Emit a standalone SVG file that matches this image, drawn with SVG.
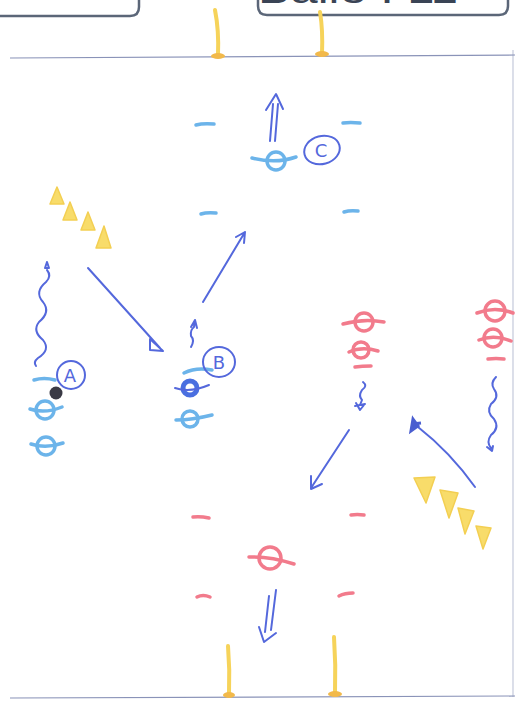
<svg xmlns="http://www.w3.org/2000/svg" width="529" height="702" viewBox="0 0 529 702">
<defs>
<style>
.frame{fill:none;stroke:#5b6678;stroke-width:2.5}
.field{fill:none;stroke:#8a93b8;stroke-width:1.2}
.post{fill:none;stroke:#f6d35a;stroke-width:4;stroke-linecap:round}
.foot{fill:#f2b94a}
.dk{fill:none;stroke:#5468dc;stroke-width:2;stroke-linecap:round;stroke-linejoin:round}
.lb{fill:none;stroke:#6cb4ea;stroke-width:3.5;stroke-linecap:round}
.lbp{fill:none;stroke:#6cb4ea;stroke-width:3.5}
.dbp{fill:none;stroke:#4a6fe0;stroke-width:5}
.rd{fill:none;stroke:#f27b8c;stroke-width:3.5;stroke-linecap:round}
.cone{fill:#f8dc6a;stroke:#f3cf52;stroke-width:1.5;stroke-linejoin:round}
.lbl{font-family:"DejaVu Sans",sans-serif;fill:#5468dc;font-size:18px;text-anchor:middle}
.hdr{font-family:"Liberation Sans",sans-serif;fill:#3a4455;font-size:38px}
</style>
</defs>
<rect width="529" height="702" fill="#ffffff"/>
<g id="header">
<path class="frame" d="M-10 -20 V16 H130 Q139 16 139 7 V-20"/>
<path class="frame" d="M258 -20 V6 Q258 15 267 15 H499 Q508 15 508 6 V-20"/>
<text class="hdr" x="258" y="3" textLength="200" lengthAdjust="spacingAndGlyphs">Bälle : 11</text>
</g>
<g id="field">
<path class="field" d="M10 58 L515 55"/>
<path class="field" d="M513 50 V697" stroke-opacity="0.5"/>
<path class="field" d="M10 698 L515 696"/>
</g>
<g id="goal-top">
<path class="post" d="M215 10 Q219 30 218 55"/>
<path class="post" d="M320 12 Q323 30 322 54"/>
<ellipse class="foot" cx="218" cy="56" rx="7" ry="3"/>
<ellipse class="foot" cx="322" cy="54" rx="7" ry="3"/>
</g>
<g id="goal-bottom">
<path class="post" d="M228 646 Q230 670 229 695"/>
<path class="post" d="M334 637 Q336 665 335 694"/>
<ellipse class="foot" cx="229" cy="695" rx="6" ry="3"/>
<ellipse class="foot" cx="335" cy="694" rx="7" ry="3"/>
</g>
<g id="blue-markers">
<path class="lb" d="M196 125 Q203 123 214 124"/>
<path class="lb" d="M343 123 Q350 122 360 123"/>
<path class="lb" d="M201 214 Q207 212 216 213"/>
<path class="lb" d="M344 212 Q350 210 358 211"/>
</g>
<g id="red-markers">
<path class="rd" d="M193 517 Q200 516 209 518"/>
<path class="rd" d="M351 515 Q357 514 364 515"/>
<path class="rd" d="M197 597 Q203 594 210 597"/>
<path class="rd" d="M339 596 Q345 593 353 593"/>
</g>
<g id="player-c">
<circle class="lbp" cx="276" cy="161" r="9"/>
<path class="lb" d="M252 158 Q276 164 296 157"/>
</g>
<g id="label-c">
<ellipse class="dk" cx="322" cy="150" rx="18" ry="14" transform="rotate(-15 322 150)"/>
<text class="lbl" x="321" y="157" font-size="20">C</text>
</g>
<g id="cones-top-left">
<path class="cone" d="M57 187 L50 204 L64 204 Z"/>
<path class="cone" d="M70 202 L63 220 L77 220 Z"/>
<path class="cone" d="M88 212 L81 230 L95 230 Z"/>
<path class="cone" d="M104 226 L96 248 L111 248 Z"/>
</g>
<g id="cones-right">
<path class="cone" d="M414 478 L435 477 L426 503 Z"/>
<path class="cone" d="M440 490 L458 493 L449 518 Z"/>
<path class="cone" d="M458 508 L474 511 L465 534 Z"/>
<path class="cone" d="M476 526 L491 528 L483 549 Z"/>
</g>
<g id="player-a">
<path class="lb" d="M34 380 Q44 377 55 380"/>
<circle cx="56" cy="393" r="6.5" fill="#3a3a45"/>
<circle class="lbp" cx="45" cy="410" r="9"/>
<path class="lb" d="M30 409 Q45 414 62 407"/>
<circle class="lbp" cx="46" cy="446" r="9"/>
<path class="lb" d="M31 444 Q46 449 63 443"/>
</g>
<g id="label-a">
<circle class="dk" cx="71" cy="375" r="14"/>
<text class="lbl" x="70" y="382" font-size="19">A</text>
</g>
<g id="player-b">
<path class="lb" d="M184 373 Q196 367 212 370" stroke="#5aa0e8"/>
<circle class="dbp" cx="190" cy="388" r="7"/>
<path class="dk" d="M175 388 Q190 393 209 385" stroke-width="4"/>
<circle class="lbp" cx="190" cy="419" r="8" stroke="#7ec0f0"/>
<path class="lb" d="M176 420 Q192 420 212 415" stroke="#7ec0f0"/>
</g>
<g id="label-b">
<ellipse class="dk" cx="219" cy="362" rx="16" ry="15"/>
<text class="lbl" x="219" y="369" font-size="19">B</text>
</g>
<g id="red-players-left">
<circle class="rd" cx="364" cy="322" r="9"/>
<path class="rd" d="M343 324 Q364 318 384 322"/>
<circle class="rd" cx="361" cy="350" r="8"/>
<path class="rd" d="M349 352 Q362 346 378 351"/>
<path class="rd" d="M355 367 Q362 366 371 366" stroke-width="4.5"/>
</g>
<g id="red-players-right">
<circle class="rd" cx="495" cy="311" r="10"/>
<path class="rd" d="M477 313 Q495 306 513 313"/>
<circle class="rd" cx="493" cy="338" r="9"/>
<path class="rd" d="M479 340 Q494 334 511 341"/>
<path class="rd" d="M488 359 Q496 358 504 359" stroke-width="4.5"/>
</g>
<g id="player-red-bottom">
<circle class="rd" cx="270" cy="558" r="11"/>
<path class="rd" d="M249 557 Q270 556 294 564"/>
</g>
<g id="connectors">
<path class="dk" d="M270 141 L273 104 M275 141 L278 104 M266 110 L276 94 L283 109"/>
<path class="dk" d="M47 262 L45 268 L49 268 Z M47 270 Q52 276 46 282 Q34 292 43 302 Q51 312 39 322 Q32 331 43 340 Q51 350 38 358 Q33 362 36 366"/>
<path class="dk" d="M88 268 L160 348 M150 339 L163 351 L150 350 Z"/>
<path class="dk" d="M203 302 L245 232 M236 237 L245 232 L244 243"/>
<path class="dk" d="M191 347 Q195 340 191 336 Q190 330 194 327 L195 320 M191 327 L195 320 L197 328"/>
<path class="dk" d="M363 382 Q368 386 362 390 Q358 396 362 400 L360 405"/>
<path class="dk" d="M356 403 L360 410 L364 405 M355 406 L365 404" stroke-width="1.5"/>
<path class="dk" d="M349 430 L311 488 M311 476 L311 489 L322 484"/>
<path class="dk" d="M475 487 Q450 452 418 427" stroke-width="2.5"/>
<path d="M413 419 L418 426 L411 431 Z M412 424 L421 423" stroke="#4a5ed0" stroke-width="3" fill="#4a5ed0"/>
<path class="dk" d="M496 377 Q490 383 494 389 Q500 397 491 404 Q486 412 494 419 Q500 428 491 435 Q486 442 491 448 M487 447 L492 451 L493 446"/>
<path class="dk" d="M269 596 L265 632 M276 590 L271 630 M259 627 L264 642 L276 633"/>
</g>
</svg>
